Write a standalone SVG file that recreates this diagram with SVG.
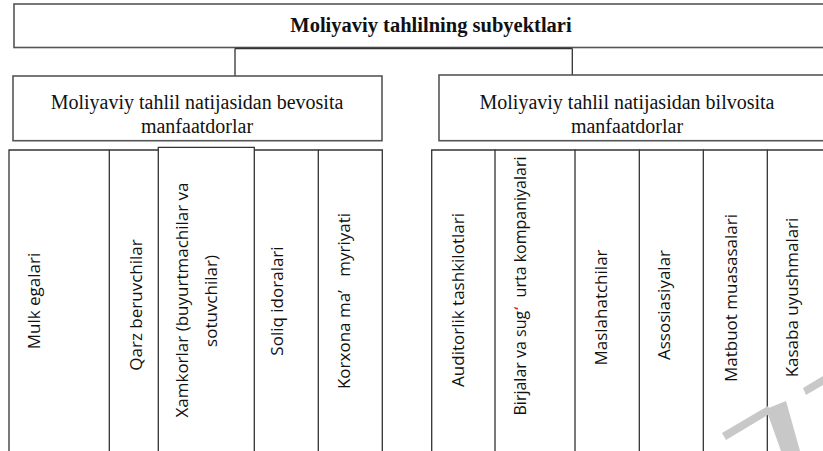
<svg xmlns="http://www.w3.org/2000/svg" width="823" height="451" viewBox="0 0 823 451">
<style>
.box{fill:#fff;stroke:#555;stroke-width:1.6}
.col{fill:none;stroke:#333;stroke-width:1.3}
.conn{fill:none;stroke:#333;stroke-width:1.3}
.ttl{font-family:"Liberation Serif",serif;font-weight:bold;font-size:20.5px;fill:#111;text-anchor:middle}
.sub{font-family:"Liberation Serif",serif;font-size:20px;fill:#111;text-anchor:middle}
.v{font-family:"Open Sans","DejaVu Sans",sans-serif;font-size:17px;fill:#111;text-anchor:middle;white-space:pre}
.wm{fill:#c8c8c8;stroke:none}
</style>
<rect width="823" height="451" fill="#fff"/>
<g id="title">
<rect class="box" x="14" y="4" width="820" height="43.5"/>
<text class="ttl" x="431" y="32">Moliyaviy tahlilning subyektlari</text>
</g>
<g id="connectors">
<path class="conn" d="M235,48.5 H572.3 M235,48.5 V80 M572.3,48.5 V80"/>
</g>
<g id="direct">
<rect class="box" x="13" y="76" width="369" height="64.7"/>
<text class="sub" x="197" y="108.5">Moliyaviy tahlil natijasidan bevosita</text>
<text class="sub" x="197" y="132.5">manfaatdorlar</text>
</g>
<g id="indirect">
<rect class="box" x="439" y="75" width="400" height="65.7"/>
<text class="sub" x="627" y="108.5">Moliyaviy tahlil natijasidan bilvosita</text>
<text class="sub" x="627" y="132.5">manfaatdorlar</text>
</g>
<g id="mulk">
<path class="col" d="M9,452 V150 H109.3 V452"/>
<text class="v" transform="translate(40,301) rotate(-90)">Mulk egalari</text>
</g>
<g id="qarz">
<path class="col" d="M109.3,150 H158.3"/>
<text class="v" transform="translate(142,305) rotate(-90)">Qarz beruvchilar</text>
</g>
<g id="xamkorlar">
<path class="col" d="M158.3,452 V147.3 H254.3 V452"/>
<text class="v" transform="translate(188,300) rotate(-90)">Xamkorlar (buyurtmachilar va</text>
<text class="v" transform="translate(216.5,301) rotate(-90)">sotuvchilar)</text>
</g>
<g id="soliq">
<path class="col" d="M254.3,150 H318.3 V452"/>
<text class="v" transform="translate(283,301) rotate(-90)">Soliq idoralari</text>
</g>
<g id="korxona">
<path class="col" d="M318.3,150 H382.3 V452"/>
<text class="v" transform="translate(349.5,301) rotate(-90)">Korxona ma’   myriyati</text>
</g>
<g id="auditor">
<path class="col" d="M431.7,452 V150 H495 V452"/>
<text class="v" transform="translate(464,300) rotate(-90)">Auditorlik tashkilotlari</text>
</g>
<g id="birja">
<path class="col" d="M495,150 H575 V452"/>
<text class="v" style="font-size:16px" transform="translate(526,286) rotate(-90)">Birjalar va sug<tspan fill="#e02020">ʻ</tspan>  urta kompaniyalari</text>
</g>
<g id="maslahat">
<path class="col" d="M575,150 H639.3 V452"/>
<text class="v" transform="translate(607,307.5) rotate(-90)">Maslahatchilar</text>
</g>
<g id="assos">
<path class="col" d="M639.3,150 H703.3 V452"/>
<text class="v" transform="translate(669.5,305) rotate(-90)">Assosiasiyalar</text>
</g>
<g id="matbuot">
<path class="col" d="M703.3,150 H767.3 V452"/>
<text class="v" transform="translate(737,298) rotate(-90)">Matbuot muasasalari</text>
</g>
<g id="kasaba">
<path class="col" d="M767.3,150 H830"/>
<text class="v" transform="translate(798,297.5) rotate(-90)">Kasaba uyushmalari</text>
</g>
<g id="watermark">
<polygon class="wm" points="722,433 768,406 771,413 726,440"/>
<polygon class="wm" points="766,409 786,401 800,451 781,451"/>
<polygon class="wm" points="803,388 823,376 823,385 806,395"/>
</g>
</svg>
